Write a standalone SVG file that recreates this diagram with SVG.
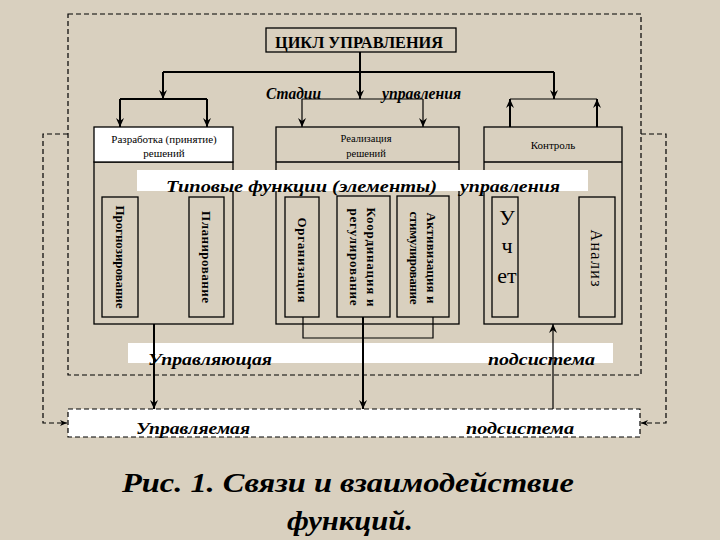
<svg xmlns="http://www.w3.org/2000/svg" width="720" height="540" viewBox="0 0 720 540">
<defs>
<marker id="ah" markerUnits="userSpaceOnUse" markerWidth="10" markerHeight="10" refX="9" refY="5" orient="auto">
<path d="M0,1 L9,5 L0,9 L3,5 Z" fill="#000"/>
</marker>
<marker id="ahs" markerUnits="userSpaceOnUse" markerWidth="8" markerHeight="8" refX="7" refY="4" orient="auto">
<path d="M0,1 L7,4 L0,7 L2,4 Z" fill="#000"/>
</marker>
</defs>
<rect x="0" y="0" width="720" height="540" fill="#D9D0BF"/>

<g id="control-subsystem-frame">
<rect x="68" y="14" width="573" height="361" fill="none" stroke="#000" stroke-width="1.2" stroke-dasharray="5 3"/>
</g>

<g id="title">
<rect x="266" y="28" width="190" height="24" fill="none" stroke="#000" stroke-width="1.3"/>
<text font-family="Liberation Serif, Times New Roman, serif" x="359" y="48" font-size="16" font-weight="700" text-anchor="middle" textLength="168" lengthAdjust="spacingAndGlyphs">ЦИКЛ УПРАВЛЕНИЯ</text>
</g>

<g id="stages-label">
<text font-family="Liberation Serif, Times New Roman, serif" font-style="italic" font-weight="700" font-size="16" x="266" y="99" textLength="55" lengthAdjust="spacingAndGlyphs">Стадии</text>
<text font-family="Liberation Serif, Times New Roman, serif" font-style="italic" font-weight="700" font-size="16" x="382" y="99" textLength="79" lengthAdjust="spacingAndGlyphs">управления</text>
</g>

<g id="stage-development">
<rect x="94" y="162" width="139" height="162" fill="none" stroke="#000" stroke-width="1.3"/>
<rect x="94" y="127" width="139" height="35" fill="#fff" stroke="#000" stroke-width="1.3"/>
<text font-family="Liberation Serif, Times New Roman, serif" x="164" y="143" font-size="11" text-anchor="middle">Разработка (принятие)</text>
<text font-family="Liberation Serif, Times New Roman, serif" x="164" y="157" font-size="11" text-anchor="middle">решений</text>
</g>

<g id="stage-implementation">
<rect x="276" y="127" width="183" height="197" fill="none" stroke="#000" stroke-width="1.3"/>
<line x1="276" y1="162" x2="459" y2="162" stroke="#000" stroke-width="1.3"/>
<text font-family="Liberation Serif, Times New Roman, serif" x="366" y="142" font-size="10.5" text-anchor="middle">Реализация</text>
<text font-family="Liberation Serif, Times New Roman, serif" x="366" y="157" font-size="10.5" text-anchor="middle">решений</text>
</g>

<g id="stage-control">
<rect x="484" y="127" width="138" height="197" fill="none" stroke="#000" stroke-width="1.3"/>
<line x1="484" y1="162" x2="622" y2="162" stroke="#000" stroke-width="1.3"/>
<text font-family="Liberation Serif, Times New Roman, serif" x="553" y="149" font-size="11" text-anchor="middle">Контроль</text>
</g>

<g id="functions-banner">
<rect x="137" y="170" width="451" height="21" fill="#fff"/>
<text font-family="Liberation Serif, Times New Roman, serif" font-style="italic" font-weight="700" font-size="17" x="166" y="192" textLength="271" lengthAdjust="spacingAndGlyphs">Типовые  функции (элементы)</text>
<text font-family="Liberation Serif, Times New Roman, serif" font-style="italic" font-weight="700" font-size="17" x="460" y="192" textLength="100" lengthAdjust="spacingAndGlyphs">управления</text>
</g>

<g id="f-forecasting">
<rect x="102" y="197" width="36" height="120" fill="none" stroke="#000" stroke-width="1.3"/>
<text font-family="Liberation Serif, Times New Roman, serif" font-weight="700" font-size="13" transform="translate(120,257) rotate(90)" text-anchor="middle" dominant-baseline="central" textLength="103" lengthAdjust="spacing">Прогнозирование</text>
</g>
<g id="f-planning">
<rect x="189" y="197" width="35" height="120" fill="none" stroke="#000" stroke-width="1.3"/>
<text font-family="Liberation Serif, Times New Roman, serif" font-weight="700" font-size="13" transform="translate(206,257) rotate(90)" text-anchor="middle" dominant-baseline="central" textLength="92" lengthAdjust="spacing">Планирование</text>
</g>
<g id="f-organization">
<rect x="285" y="197" width="34" height="120" fill="none" stroke="#000" stroke-width="1.3"/>
<text font-family="Liberation Serif, Times New Roman, serif" font-weight="700" font-size="13" transform="translate(302,260) rotate(90)" text-anchor="middle" dominant-baseline="central" textLength="85" lengthAdjust="spacing">Организация</text>
</g>
<g id="f-coordination">
<rect x="337" y="196" width="53" height="121" fill="none" stroke="#000" stroke-width="1.3"/>
<text font-family="Liberation Serif, Times New Roman, serif" font-weight="700" font-size="13" transform="translate(371,257) rotate(90)" text-anchor="middle" dominant-baseline="central" textLength="99" lengthAdjust="spacing">Координация и</text>
<text font-family="Liberation Serif, Times New Roman, serif" font-weight="700" font-size="13" transform="translate(354,257) rotate(90)" text-anchor="middle" dominant-baseline="central" textLength="97" lengthAdjust="spacing">регулирование</text>
</g>
<g id="f-activation">
<rect x="397" y="196" width="52" height="121" fill="none" stroke="#000" stroke-width="1.3"/>
<text font-family="Liberation Serif, Times New Roman, serif" font-weight="700" font-size="13" transform="translate(431,258) rotate(90)" text-anchor="middle" dominant-baseline="central" textLength="91" lengthAdjust="spacing">Активизация и</text>
<text font-family="Liberation Serif, Times New Roman, serif" font-weight="700" font-size="13" transform="translate(414,258) rotate(90)" text-anchor="middle" dominant-baseline="central" textLength="93" lengthAdjust="spacing">стимулирование</text>
</g>
<g id="f-accounting">
<rect x="492" y="197" width="26" height="120" fill="none" stroke="#000" stroke-width="1.3"/>
<text font-family="Liberation Serif, Times New Roman, serif" font-size="22" x="507" y="225" text-anchor="middle">У</text>
<text font-family="Liberation Serif, Times New Roman, serif" font-size="22" x="507" y="253" text-anchor="middle">ч</text>
<text font-family="Liberation Serif, Times New Roman, serif" font-size="22" x="507" y="283" text-anchor="middle">ет</text>
</g>
<g id="f-analysis">
<rect x="579" y="197" width="36" height="120" fill="none" stroke="#000" stroke-width="1.3"/>
<text font-family="Liberation Serif, Times New Roman, serif" transform="translate(596,258) rotate(90)" font-size="16" text-anchor="middle" dominant-baseline="central" textLength="57" lengthAdjust="spacing">Анализ</text>
</g>

<g id="control-banner">
<rect x="128" y="343" width="485" height="20" fill="#fff"/>
<text font-family="Liberation Serif, Times New Roman, serif" font-style="italic" font-weight="700" font-size="17" x="148" y="365" textLength="124" lengthAdjust="spacingAndGlyphs">Управляющая</text>
<text font-family="Liberation Serif, Times New Roman, serif" font-style="italic" font-weight="700" font-size="17" x="488" y="365" textLength="107" lengthAdjust="spacingAndGlyphs">подсистема</text>
</g>

<g id="controlled-subsystem">
<rect x="68" y="409" width="572" height="28" fill="#fff" stroke="#000" stroke-width="1.2" stroke-dasharray="5 3"/>
<text font-family="Liberation Serif, Times New Roman, serif" font-style="italic" font-weight="700" font-size="16" x="136" y="434" textLength="114" lengthAdjust="spacingAndGlyphs">Управляемая</text>
<text font-family="Liberation Serif, Times New Roman, serif" font-style="italic" font-weight="700" font-size="16" x="466" y="434" textLength="108" lengthAdjust="spacingAndGlyphs">подсистема</text>
</g>

<g id="connectors" fill="none" stroke="#000">
<g stroke-width="2">
<path d="M360,52 V99" marker-end="url(#ah)"/>
<path d="M163,72 H554"/>
<path d="M163,72 V99" marker-end="url(#ah)"/>
<path d="M554,72 V99" marker-end="url(#ah)"/>
<path d="M120,99 H207"/>
<path d="M120,99 V127" marker-end="url(#ah)"/>
<path d="M207,99 V127" marker-end="url(#ah)"/>
<path d="M510,127 V99" marker-end="url(#ah)"/>
<path d="M597,127 V99" marker-end="url(#ah)"/>
<path d="M154,324 V409" marker-end="url(#ah)"/>
<path d="M363,317 V409" marker-end="url(#ah)"/>
</g>
<g stroke-width="1.2">
<path d="M302,99 H423"/>
<path d="M302,99 V127" marker-end="url(#ah)"/>
<path d="M423,99 V127" marker-end="url(#ah)"/>
<path d="M510,99 H597"/>
<path d="M303,317 V338 H433 V317"/>
<path d="M553,409 V324" marker-end="url(#ah)"/>
</g>
<g stroke-width="1.2" stroke-dasharray="5 3">
<path d="M68,134 H43 V423 H67" marker-end="url(#ahs)"/>
<path d="M641,134 H666 V423 H641" marker-end="url(#ahs)"/>
</g>
</g>

<g id="caption">
<text font-family="Liberation Serif, Times New Roman, serif" font-style="italic" font-weight="700" font-size="27" x="348" y="492" text-anchor="middle" textLength="452" lengthAdjust="spacingAndGlyphs">Рис. 1.  Связи и взаимодействие</text>
<text font-family="Liberation Serif, Times New Roman, serif" font-style="italic" font-weight="700" font-size="27" x="350" y="530" text-anchor="middle" textLength="126" lengthAdjust="spacingAndGlyphs">функций.</text>
</g>
</svg>
